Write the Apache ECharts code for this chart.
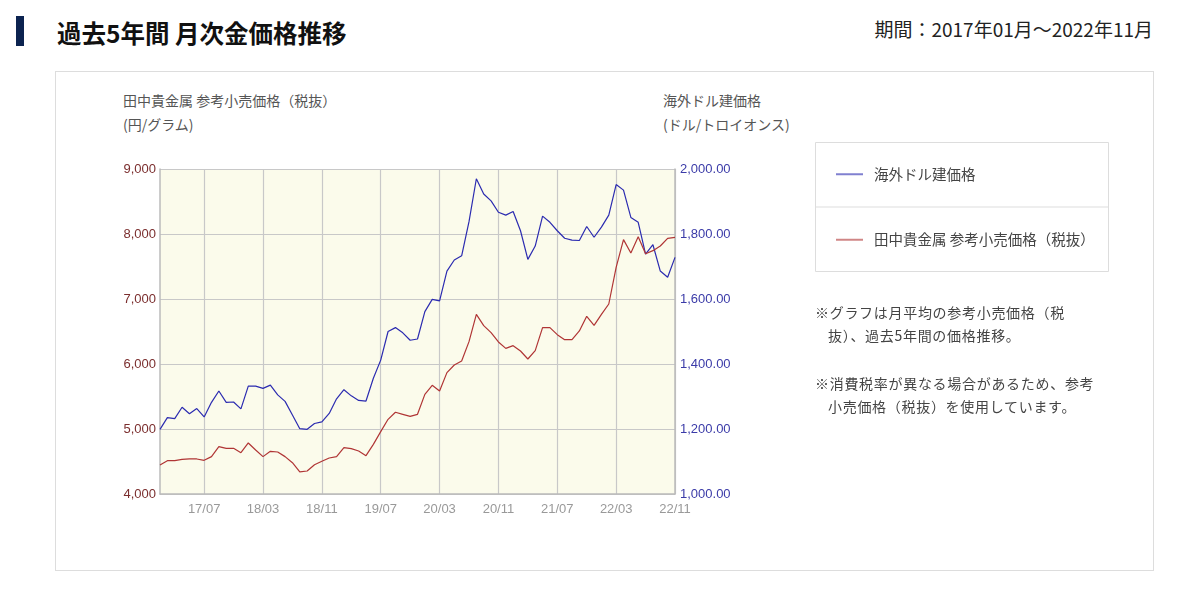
<!DOCTYPE html>
<html lang="ja">
<head>
<meta charset="utf-8">
<title>過去5年間 月次金価格推移</title>
<script src="https://cdn.jsdelivr.net/npm/echarts@6/dist/echarts.min.js"></script>
<style>
  html, body { margin: 0; padding: 0; background: #fff; }
  body { width: 1200px; height: 597px; position: relative; overflow: hidden;
         font-family: "Noto Sans CJK JP", "Noto Sans", sans-serif; color: #333; }
  .bar { position: absolute; left: 16px; top: 16px; width: 8px; height: 30px; background: #0c2350; }
  .title { position: absolute; left: 57px; top: 17px; font-size: 24.5px; font-weight: bold; line-height: 32px; color: #111; }
  .period { position: absolute; right: 47px; top: 15px; font-size: 19px; line-height: 28px; color: #222; }
  .panel { position: absolute; left: 55px; top: 71px; width: 1097px; height: 498px; border: 1px solid #ddd; }
  .axname { position: absolute; font-size: 14px; line-height: 24px; color: #555; }
  #chart { position: absolute; left: 0; top: 0; width: 1200px; height: 597px; }
  .notes { position: absolute; left: 815px; top: 301px; font-size: 14px; line-height: 23px; color: #444; letter-spacing: 0.7px; }
  .notes p { margin: 0 0 25px 0; padding-left: 13px; text-indent: -13px; }
</style>
</head>
<body>
<div class="bar"></div>
<div class="title">過去5年間 月次金価格推移</div>
<div class="period">期間：2017年01月～2022年11月</div>
<div class="panel"></div>
<div class="axname" style="left:123px; top:88px;">田中貴金属 参考小売価格（税抜）<br>(円/グラム)</div>
<div class="axname" style="left:663px; top:88px;">海外ドル建価格<br>(ドル/トロイオンス)</div>
<div id="chart"></div>
<div class="notes">
  <p>※グラフは月平均の参考小売価格（税<br>抜）、過去5年間の価格推移。</p>
  <p>※消費税率が異なる場合があるため、参考<br>小売価格（税抜）を使用しています。</p>
</div>
<script>
// 2017/01 〜 2022/11 の月次
const startYear = 2017;
const monthCount = 71;
const months = [];
for (let i = 0; i < monthCount; i++) {
  const y = startYear + Math.floor(i / 12);
  const m = (i % 12) + 1;
  months.push(String(y).slice(2) + '/' + String(m).padStart(2, '0'));
}

// 海外ドル建価格 (ドル/トロイオンス)
const usdPrice = [
  1199, 1235, 1232, 1267, 1247, 1263, 1237, 1282, 1317, 1282, 1283, 1262,
  1332, 1332, 1325, 1335, 1305, 1285, 1243, 1201, 1199, 1217, 1222, 1248,
  1293, 1321, 1302, 1288, 1286, 1356, 1412, 1500, 1512, 1496, 1473, 1477,
  1561, 1599, 1594, 1686, 1720, 1733, 1838, 1970, 1923, 1902, 1867, 1858,
  1869, 1810, 1722, 1763, 1855, 1836, 1810, 1787, 1781, 1780, 1823, 1790,
  1821, 1858, 1952, 1935, 1851, 1836, 1738, 1767, 1686, 1667, 1728
];

// 田中貴金属 参考小売価格（税抜） (円/グラム)
const yenPrice = [
  4446, 4513, 4513, 4533, 4539, 4539, 4518, 4575, 4728, 4703, 4703, 4636,
  4785, 4677, 4575, 4657, 4646, 4575, 4482, 4339, 4354, 4451, 4503, 4554,
  4575, 4713, 4698, 4662, 4590, 4764, 4959, 5149, 5257, 5226, 5195, 5226,
  5533, 5672, 5585, 5867, 5985, 6046, 6344, 6764, 6590, 6482, 6339, 6241,
  6282, 6200, 6077, 6205, 6559, 6559, 6451, 6374, 6374, 6508, 6733, 6595,
  6764, 6923, 7487, 7913, 7708, 7959, 7697, 7744, 7815, 7933, 7949
];

const usdName = '海外ドル建価格';
const yenName = '田中貴金属 参考小売価格（税抜）';

// 17/07 から 8ヶ月ごとに目盛り
const showTick = (index) => index >= 6 && (index - 6) % 8 === 0;

const chart = echarts.init(document.getElementById('chart'));
chart.setOption({
  animation: false,
  textStyle: { fontFamily: '"Liberation Sans", Arial, sans-serif' },
  grid: {
    left: 160, top: 169, width: 515, height: 325,
    show: true, backgroundColor: '#fbfbeb', borderWidth: 0
  },
  legend: {
    orient: 'vertical',
    left: 831, top: 162,
    icon: 'rect',
    itemWidth: 27, itemHeight: 2, itemGap: 51,
    lineStyle: { width: 2, opacity: 0.6 },
    itemStyle: { opacity: 0.6 },
    data: [usdName, yenName],
    textStyle: {
      fontFamily: '"Noto Sans CJK JP", sans-serif',
      fontSize: 14.5, color: '#444', padding: [0, 0, 0, 6]
    }
  },
  graphic: [
    {
      type: 'rect', left: 815, top: 142, z: -1,
      shape: { width: 293, height: 129 },
      style: { fill: '#fff', stroke: '#ddd', lineWidth: 1 }
    },
    {
      type: 'line', z: -1,
      shape: { x1: 815, y1: 207, x2: 1108, y2: 207 },
      style: { stroke: '#ddd', lineWidth: 1 }
    }
  ],
  xAxis: {
    type: 'category',
    data: months,
    boundaryGap: false,
    axisLine: { lineStyle: { color: '#bbb', width: 1.5 } },
    axisTick: { show: false },
    axisLabel: { interval: showTick, color: '#999', fontSize: 13, margin: 9 },
    splitLine: { show: true, interval: showTick, lineStyle: { color: '#c8c8c8', width: 1.2 } }
  },
  yAxis: [
    {
      type: 'value', position: 'left',
      min: 4000, max: 9000, interval: 1000,
      axisLine: { show: true, lineStyle: { color: '#bbb', width: 1.5 } },
      axisTick: { show: false },
      axisLabel: {
        color: '#7b2e2e', fontSize: 13, margin: 4,
        formatter: (v) => v.toLocaleString('en-US')
      },
      splitLine: { lineStyle: { color: '#c8c8c8', width: 1.2 } }
    },
    {
      type: 'value', position: 'right',
      min: 1000, max: 2000, interval: 200,
      axisLine: { show: true, lineStyle: { color: '#bbb', width: 1.5 } },
      axisTick: { show: false },
      axisLabel: {
        color: '#3b3ba8', fontSize: 13, margin: 5,
        formatter: (v) => v.toLocaleString('en-US', { minimumFractionDigits: 2, maximumFractionDigits: 2 })
      },
      splitLine: { show: false }
    }
  ],
  series: [
    {
      name: usdName, type: 'line', yAxisIndex: 1,
      data: usdPrice, symbol: 'none',
      itemStyle: { color: '#2b2bb0' },
      lineStyle: { color: '#2b2bb0', width: 1.2 }
    },
    {
      name: yenName, type: 'line', yAxisIndex: 0,
      data: yenPrice, symbol: 'none',
      itemStyle: { color: '#b03535' },
      lineStyle: { color: '#b03535', width: 1.2 }
    }
  ]
});
</script>
</body>
</html>
